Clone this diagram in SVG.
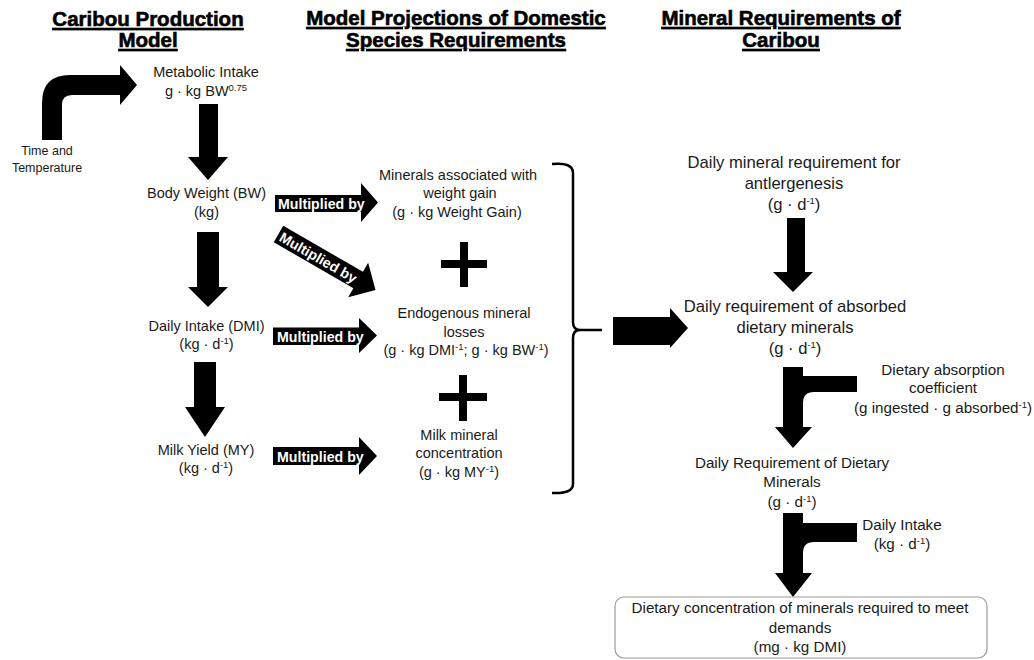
<svg xmlns="http://www.w3.org/2000/svg" width="1034" height="660" viewBox="0 0 1034 660">
<style>
text{font-family:"Liberation Sans",Arial,sans-serif;fill:#1a1a1a;text-anchor:middle}
.h{font-size:20.5px;font-weight:bold;text-decoration:underline;fill:#000;stroke:#000;stroke-width:0.6}
.t14{font-size:14.5px}
.t15{font-size:15.2px}
.t17{font-size:16.6px}
.sm{font-size:12.5px}
.m{font-size:14.2px;font-weight:bold;fill:#fff;text-anchor:start}
.blk{fill:#000;stroke:none}
.sup{font-size:9.5px}
</style>
<rect width="1034" height="660" fill="#fff"/>
<g id="headers">
<text class="h" x="148" y="26">Caribou Production</text>
<text class="h" x="148" y="47">Model</text>
<text class="h" x="456" y="25">Model Projections of Domestic</text>
<text class="h" x="456" y="47">Species Requirements</text>
<text class="h" x="781" y="25">Mineral Requirements of</text>
<text class="h" x="781" y="47">Caribou</text>
</g>
<g id="connectors">
<path class="blk" d="M42,140 V103 Q42,75 70,75 H120 V65 L137,85 L120,105 V95 H72 Q62,95 62,105 V140 Z"/>
<path class="blk" d="M199,104 H218 V157 H228 L208,180 L188,157 H199 Z"/>
<path class="blk" d="M197,232 H219 V287 H228 L208,307 L188,287 H197 Z"/>
<path class="blk" d="M194,362 H216 V407 H225 L205,437 L185,407 H194 Z"/>
<g>
<path class="blk" d="M275,195 H361 V183 L378,202.5 L361,222 V212 H275 Z"/>
<text class="m" x="278" y="209">Multiplied by</text>
</g>
<g transform="translate(278.5,234) rotate(30)">
<path class="blk" d="M0,-9.5 H92 V-20 L112,0 L92,20 V9.5 H0 Z"/>
<text class="m" x="3" y="5.5">Multiplied by</text>
</g>
<g>
<path class="blk" d="M273,327.5 H359 V318 L377,335.5 L359,353 V345 H273 Z"/>
<text class="m" x="277" y="342">Multiplied by</text>
</g>
<g>
<path class="blk" d="M273,447 H359 V437 L377,456 L359,475 V465 H273 Z"/>
<text class="m" x="277" y="462">Multiplied by</text>
</g>
<path d="M552,164 Q573,162 573,173 V322 Q573,330 580,330 Q573,330 573,338 V484 Q573,494 552,493 M580,330 H602" fill="none" stroke="#000" stroke-width="2.5"/>
<path class="blk" d="M613,317 H670 V308 L688,328 L670,348 V345 H613 Z"/>
<path class="blk" d="M787,218 H805 V272 H813 L793,292 L773,272 H787 Z"/>
<path class="blk" d="M783,367 H803 V376 H857 V392 H814 Q803,392 803,403 V427 H812 L793,448 L775,427 H783 Z"/>
<path class="blk" d="M783,513 H803 V523 H857 V542 H814 Q803,542 803,553 V573 H812 L793,597 L775,573 H783 Z"/>
</g>
<g id="time-temp">
<text class="sm" x="47" y="155">Time and</text>
<text class="sm" x="47" y="172">Temperature</text>
</g>
<g id="metabolic-intake">
<text class="t14" x="206" y="77">Metabolic Intake</text>
<text class="t14" x="206" y="96">g · kg BW<tspan class="sup" dy="-5">0.75</tspan></text>
</g>
<g id="body-weight">
<text class="t14" x="206.5" y="198">Body Weight (BW)</text>
<text class="t14" x="206.5" y="217">(kg)</text>
</g>
<g id="daily-intake">
<text class="t14" x="206.5" y="331">Daily Intake (DMI)</text>
<text class="t14" x="206.5" y="349">(kg · d<tspan class="sup" dy="-5">-1</tspan><tspan dy="5">)</tspan></text>
</g>
<g id="milk-yield">
<text class="t14" x="206" y="455">Milk Yield (MY)</text>
<text class="t14" x="206" y="473">(kg · d<tspan class="sup" dy="-5">-1</tspan><tspan dy="5">)</tspan></text>
</g>
<g id="weight-gain">
<text class="t14" x="458" y="180">Minerals associated with</text>
<text class="t14" x="460" y="198">weight gain</text>
<text class="t14" x="457" y="217">(g · kg Weight Gain)</text>
</g>
<g id="plus1"><path class="blk" d="M460,242 H468 V260 H487 V268 H468 V287 H460 V268 H441 V260 H460 Z"/></g>
<g id="endogenous">
<text class="t14" x="464" y="318">Endogenous mineral</text>
<text class="t14" x="464" y="337">losses</text>
<text class="t14" x="466" y="355">(g · kg DMI<tspan class="sup" dy="-5">-1</tspan><tspan dy="5">; g · kg BW</tspan><tspan class="sup" dy="-5">-1</tspan><tspan dy="5">)</tspan></text>
</g>
<g id="plus2"><path class="blk" d="M459,375 H467 V393 H487 V401 H467 V421 H459 V401 H439 V393 H459 Z"/></g>
<g id="milk-mineral">
<text class="t14" x="459" y="440">Milk mineral</text>
<text class="t14" x="459" y="458">concentration</text>
<text class="t14" x="459" y="477">(g · kg MY<tspan class="sup" dy="-5">-1</tspan><tspan dy="5">)</tspan></text>
</g>
<g id="antlergenesis">
<text class="t17" x="794" y="168">Daily mineral requirement for</text>
<text class="t17" x="794" y="189">antlergenesis</text>
<text class="t17" x="794" y="210">(g · d<tspan class="sup" dy="-6">-1</tspan><tspan dy="6">)</tspan></text>
</g>
<g id="absorbed">
<text class="t17" x="795" y="312">Daily requirement of absorbed</text>
<text class="t17" x="795" y="333">dietary minerals</text>
<text class="t17" x="795" y="354">(g · d<tspan class="sup" dy="-6">-1</tspan><tspan dy="6">)</tspan></text>
</g>
<g id="absorption-coef">
<text class="t15" x="943" y="375">Dietary absorption</text>
<text class="t15" x="943" y="393">coefficient</text>
<text class="t15" x="943" y="413">(g ingested · g absorbed<tspan class="sup" dy="-5">-1</tspan><tspan dy="5">)</tspan></text>
</g>
<g id="dietary-req">
<text class="t15" x="792" y="468">Daily Requirement of Dietary</text>
<text class="t15" x="792" y="487">Minerals</text>
<text class="t15" x="792" y="507">(g · d<tspan class="sup" dy="-5">-1</tspan><tspan dy="5">)</tspan></text>
</g>
<g id="daily-intake-r">
<text class="t15" x="902" y="530">Daily Intake</text>
<text class="t15" x="902" y="549">(kg · d<tspan class="sup" dy="-5">-1</tspan><tspan dy="5">)</tspan></text>
</g>
<g id="dietary-conc">
<rect x="615" y="597" width="372" height="61" rx="9" fill="#fff" stroke="#9a9a9a" stroke-width="1.2"/>
<text class="t15" x="800" y="613">Dietary concentration of minerals required to meet</text>
<text class="t15" x="800" y="633">demands</text>
<text class="t15" x="800" y="652">(mg · kg DMI)</text>
</g>
</svg>
